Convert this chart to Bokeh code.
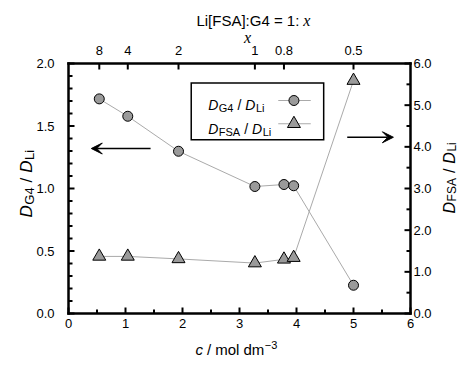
import math
import numpy as np
from bokeh.plotting import figure
from bokeh.models import (LinearAxis, Range1d, FixedTicker, Label,
                          Arrow, VeeHead, NumeralTickFormatter)
from bokeh.embed import file_html
from bokeh.resources import INLINE

# ---- data ----
conc = [0.54, 1.04, 1.93, 3.27, 3.78, 3.95, 5.0]                  # c / mol dm^-3
d_g4_ratio = [1.717, 1.578, 1.298, 1.016, 1.032, 1.022, 0.226]    # D_G4 / D_Li (left axis)
d_fsa_ratio = [1.37, 1.37, 1.31, 1.21, 1.30, 1.34, 5.59]          # D_FSA / D_Li (right axis)
top_tick_conc = [0.54, 1.04, 1.93, 3.27, 3.78, 5.0]
top_tick_labels = ["8", "4", "2", "1", "0.8", "0.5"]

SANS = "Liberation Sans"
SERIF = "Liberation Serif"

W_FIG, H_FIG = 461, 357
# position of the axes box inside the figure (px)
FL, FR, FT, FB = 68, 410, 63, 313
X0, X1 = 0.0, 6.0
YL0, YL1 = 0.0, 2.0
YR0, YR1 = 0.0, 6.0
sx = (FR - FL) / (X1 - X0)
syl = (FB - FT) / (YL1 - YL0)
syr = (FB - FT) / (YR1 - YR0)

p = figure(width=W_FIG, height=H_FIG, output_backend="svg", toolbar_location=None,
           x_range=Range1d(X0 - FL / sx, X1 + (W_FIG - FR) / sx),
           y_range=Range1d(YL0 - (H_FIG - FB) / syl, YL1 + FT / syl),
           min_border=0, x_axis_location=None, y_axis_location=None)
p.extra_y_ranges = {"r": Range1d(YR0 - (H_FIG - FB) / syr, YR1 + FT / syr)}
p.grid.visible = False
p.outline_line_color = None
p.background_fill_color = "white"
p.border_fill_color = "white"


def style_axis(ax, standoff):
    ax.axis_line_color = None
    ax.major_tick_line_color = None
    ax.minor_tick_line_color = None
    ax.major_tick_in = 0
    ax.major_tick_out = 0
    ax.minor_tick_in = 0
    ax.minor_tick_out = 0
    ax.major_label_text_font = SANS
    ax.major_label_text_font_size = "13px"
    ax.major_label_text_color = "black"
    ax.major_label_standoff = standoff
    ax.axis_label = None
    props = ax.properties()
    for name in ("background_fill_color", "major_label_background_fill_color",
                 "axis_label_background_fill_color"):
        if name in props:
            setattr(ax, name, None)


bottom_major = np.arange(0, 6.01, 1.0)
bottom_minor = np.arange(0.5, 6.0, 1.0)
left_major = np.arange(0, 2.01, 0.5)
left_minor = np.array([v for v in np.arange(0.1, 2.0, 0.1) if abs(v / 0.5 - round(v / 0.5)) > 1e-6])
right_major = np.arange(0, 6.01, 1.0)
right_minor = np.arange(0.5, 6.0, 1.0)

bottom = LinearAxis(fixed_location=YL0, bounds=(X0, X1),
                    ticker=FixedTicker(ticks=list(bottom_major), minor_ticks=[]),
                    formatter=NumeralTickFormatter(format="0"))
style_axis(bottom, 5)
p.add_layout(bottom, "below")

top = LinearAxis(fixed_location=YL1, bounds=(X0, X1),
                 ticker=FixedTicker(ticks=top_tick_conc, minor_ticks=[]),
                 major_label_overrides={t: l for t, l in zip(top_tick_conc, top_tick_labels)})
style_axis(top, 9)
p.add_layout(top, "above")

left = LinearAxis(fixed_location=X0, bounds=(YL0, YL1),
                  ticker=FixedTicker(ticks=list(left_major), minor_ticks=[]),
                  formatter=NumeralTickFormatter(format="0.0"))
style_axis(left, 14)
p.add_layout(left, "left")

right = LinearAxis(y_range_name="r", fixed_location=X1, bounds=(YR0, YR1),
                   ticker=FixedTicker(ticks=list(right_major), minor_ticks=[]),
                   formatter=NumeralTickFormatter(format="0.0"))
style_axis(right, 3)
p.add_layout(right, "right")

# ---- axes box and inward ticks as filled bars on the axes' own scales ----
MAJ, MIN = 6, 4      # tick lengths, px
TW = 2.0             # tick thickness, px
BW = 2.5             # box line thickness, px
hx = TW / 2 / sx
hyl = TW / 2 / syl
hyr = TW / 2 / syr
FILL = dict(fill_color="black", fill_alpha=1.0, line_color=None, level="overlay")


def vbars(xs, y0, length_px, rng_scale, rng="default"):
    xs = np.asarray(xs, dtype=float)
    y1 = y0 + length_px / rng_scale
    p.quad(left=xs - hx, right=xs + hx, bottom=np.full(xs.shape, min(y0, y1)),
           top=np.full(xs.shape, max(y0, y1)), y_range_name=rng, **FILL)


def hbars(ys, x0, length_px, h, rng="default"):
    ys = np.asarray(ys, dtype=float)
    x1 = x0 + length_px / sx
    p.quad(left=np.full(ys.shape, min(x0, x1)), right=np.full(ys.shape, max(x0, x1)),
           bottom=ys - h, top=ys + h, y_range_name=rng, **FILL)


vbars(bottom_major, YL0, MAJ, syl)
vbars(bottom_minor, YL0, MIN, syl)
vbars(top_tick_conc, YL1, -MAJ, syl)
hbars(left_major, X0, MAJ, hyl)
hbars(left_minor, X0, MIN, hyl)
hbars(right_major, X1, -MAJ, hyr, "r")
hbars(right_minor, X1, -MIN, hyr, "r")

bx = BW / 2 / sx
by = BW / 2 / syl
p.quad(left=[X0 - bx, X0 - bx, X0 - bx, X1 - bx], right=[X1 + bx, X1 + bx, X0 + bx, X1 + bx],
       bottom=[YL0 - by, YL1 - by, YL0 - by, YL0 - by], top=[YL0 + by, YL1 + by, YL1 + by, YL1 + by],
       **FILL)

LINE_C = "#aaaaaa"
FILL_C = "#9a9a9a"

# series
p.line(conc, d_g4_ratio, line_color=LINE_C, line_width=1)
p.scatter(conc, d_g4_ratio, marker="circle", size=10, fill_color=FILL_C, line_color="black", line_width=1)
p.line(conc, d_fsa_ratio, y_range_name="r", line_color=LINE_C, line_width=1)
p.scatter(conc, d_fsa_ratio, y_range_name="r", marker="triangle", size=13,
          fill_color=FILL_C, line_color="black", line_width=1)

# ---- composed texts (pieces with explicit gaps, no leading spaces) ----
W = {'D': 722, 'G': 778, '4': 556, '/': 278, 'L': 556, 'i': 222, 'F': 611,
     'S': 667, 'A': 667, 'c': 500, 'm': 833, 'o': 556, 'l': 222, 'd': 556, '−': 584, '3': 556}


def tw(text, size):
    return sum(W.get(ch, 556) for ch in text) / 1000.0 * size


def compose(pieces, x, y, angle=0.0):
    adv = 0.0
    for text, size, style, shift, gap in pieces:
        adv += gap
        if angle == 0:
            xo, yo = adv, -shift
        else:
            xo, yo = shift, adv
        p.add_layout(Label(x=x, y=y, text=text, text_font=SANS, text_font_size=f"{size}px",
                           text_font_style=style, text_color="black", text_align="left",
                           text_baseline="alphabetic", angle=angle, x_offset=xo, y_offset=yo))
        adv += tw(text, size)


def ratio(sub, big, small, g):
    return [("D", big, "italic", 0, 0), (sub, small, "normal", 3, 0.5), ("/", big, "normal", 0, g),
            ("D", big, "italic", 0, g), ("Li", small, "normal", 3, 0.5)]


# y axis titles (rotated, reading bottom to top)
compose(ratio("G4", 17, 13, 5), -0.74, 0.768, angle=math.pi / 2)
compose(ratio("FSA", 16, 12, 5), 6.68, 0.80, angle=math.pi / 2)

# x axis title
compose([("c", 15, "italic", 0, 0), ("/", 15, "normal", 0, 4), ("mol", 15, "normal", 0, 4),
         ("dm", 15, "normal", 0, 4), ("−3", 11, "normal", -5, 0.5)], 2.23, -0.288)

# top title and top axis label
p.add_layout(Label(x=4.05, y=2.344, text="Li[FSA]:G4 = 1:", text_font=SANS, text_font_size="15px",
                   text_align="right", text_baseline="alphabetic", text_color="black"))
p.add_layout(Label(x=4.12, y=2.344, text="x", text_font=SERIF, text_font_size="16px",
                   text_font_style="italic", text_align="left", text_baseline="alphabetic",
                   text_color="black"))
p.add_layout(Label(x=3.14, y=2.208, text="x", text_font=SERIF, text_font_size="16px",
                   text_font_style="italic", text_align="center", text_baseline="alphabetic",
                   text_color="black"))

# legend box: black frame with a white inset
lb = 1.5
p.quad(left=[2.14], right=[4.49], top=[1.85], bottom=[1.384], fill_color="black", line_color=None)
p.quad(left=[2.14 + lb / sx], right=[4.49 - lb / sx], top=[1.85 - lb / syl],
       bottom=[1.384 + lb / syl], fill_color="white", line_color=None)
compose(ratio("G4", 14, 11, 4), 2.45, 1.672)
compose(ratio("FSA", 14, 11, 4), 2.45, 1.480)
p.line([3.68, 4.25], [1.704, 1.704], line_color=LINE_C, line_width=1)
p.scatter([3.955], [1.704], marker="circle", size=10, fill_color=FILL_C, line_color="black")
p.line([3.68, 4.25], [1.518, 1.518], line_color=LINE_C, line_width=1)
p.scatter([3.955], [1.518], marker="triangle", size=13, fill_color=FILL_C, line_color="black")

# arrows
p.add_layout(Arrow(end=VeeHead(size=11, fill_color="black", line_color="black"),
                   x_start=1.44, y_start=1.32, x_end=0.40, y_end=1.32,
                   line_color="black", line_width=1.5))
p.add_layout(Arrow(end=VeeHead(size=11, fill_color="black", line_color="black"),
                   x_start=4.89, y_start=1.41, x_end=5.70, y_end=1.41,
                   line_color="black", line_width=1.5))

open("out.html", "w").write(file_html(p, INLINE))
